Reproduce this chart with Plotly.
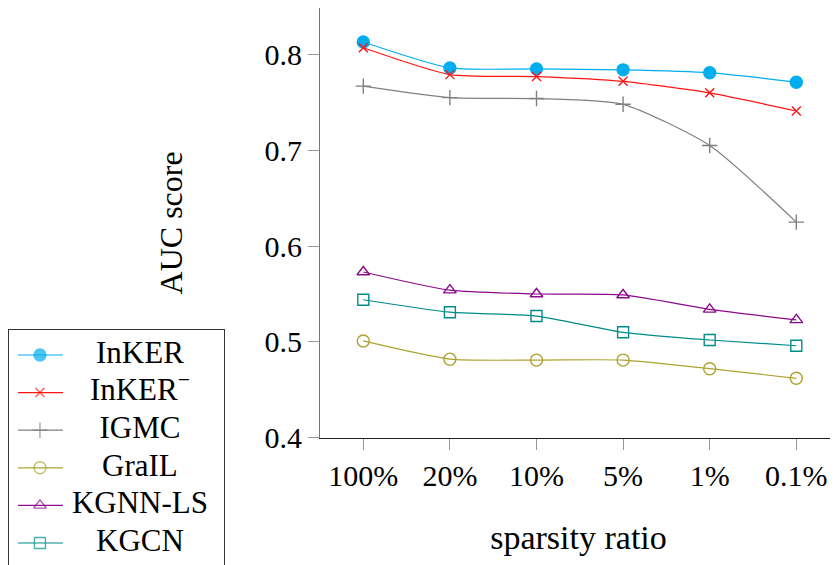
import plotly.graph_objects as go

categories = ["100%", "20%", "10%", "5%", "1%", "0.1%"]
inker = [0.813, 0.786, 0.785, 0.784, 0.781, 0.771]
inker_minus = [0.807, 0.779, 0.777, 0.772, 0.760, 0.741]
igmc = [0.767, 0.755, 0.754, 0.748, 0.705, 0.625]
grail = [0.501, 0.482, 0.481, 0.481, 0.472, 0.462]
kgnn_ls = [0.573, 0.554, 0.550, 0.549, 0.534, 0.523]
kgcn = [0.544, 0.531, 0.527, 0.510, 0.502, 0.496]

series = [
    ("InKER", inker, "#00AEEF", "circle", 12),
    ("InKER<sup>\u2212</sup>", inker_minus, "#FF1414", "x-thin-open", 9),
    ("IGMC", igmc, "#808080", "cross-thin-open", 11),
    ("GraIL", grail, "#ADA230", "circle-open", 12),
    ("KGNN-LS", kgnn_ls, "#8B0A8B", "triangle-up-open", 11),
    ("KGCN", kgcn, "#008B8B", "square-open", 11),
]

SW, SH = 838, 565     # browser window
OFF = 8               # page body margin
W, H = SW - OFF, SH - OFF
FONT = "Liberation Serif, DejaVu Serif, serif"
xs = list(range(len(categories)))


def px_x(p):
    return min(max((p - OFF) / W, 0), 1)


def px_y(p):
    return min(max((H - (p - OFF)) / H, 0), 1)


fig = go.Figure()
for name, vals, color, sym, size in series:
    fig.add_trace(go.Scatter(
        x=xs, y=vals, mode="lines+markers", name=name,
        line=dict(color=color, width=1.2, shape="spline", smoothing=0.6),
        marker=dict(symbol=sym, size=size, color=color,
                    line=dict(color=color, width=1.4)),
        showlegend=False, xaxis="x", yaxis="y"))

# custom legend (centered text, like pgfplots)
ROW = 37.6
for i, (name, vals, color, sym, size) in enumerate(series):
    fig.add_trace(go.Scatter(
        x=[0.042, 0.144, 0.251], y=[i, i, i], mode="lines+markers",
        line=dict(color=color, width=1.2),
        marker=dict(symbol=sym, size=[0, size, 0], color=color,
                    line=dict(color=color, width=[0, 1.4, 0])),
        showlegend=False, hoverinfo="skip", xaxis="x2", yaxis="y2"))
fig.add_trace(go.Scatter(
    x=[0.609] * len(series), y=list(range(len(series))), mode="text",
    text=[s[0] for s in series], textposition="middle center",
    textfont=dict(family=FONT, size=31, color="black"),
    showlegend=False, hoverinfo="skip", xaxis="x2", yaxis="y2"))

# y range: 0.4 at screen 437.7, 0.1 per 95.8 px; top of domain at screen OFF
y_top = 0.4 + (437.7 - OFF) / 958.0

fig.update_layout(
    width=W, height=H,
    margin=dict(l=0, r=0, t=0, b=0),
    paper_bgcolor="white", plot_bgcolor="white",
    font=dict(family=FONT, size=30, color="black"),
    xaxis=dict(
        domain=[px_x(320), px_x(837)], range=[-0.5, 5.47],
        tickvals=xs, ticktext=categories,
        showgrid=False, zeroline=False,
        showline=True, linecolor="#222", linewidth=1.2, mirror="ticks",
        ticks="outside", ticklen=11, tickcolor="#999", tickwidth=1,
        automargin=False, anchor="y",
        title=dict(text="sparsity ratio", standoff=34, font=dict(family=FONT, size=34)),
        tickfont=dict(family=FONT, size=30),
    ),
    yaxis=dict(
        domain=[px_y(437.7), 1], range=[0.4, y_top],
        tickvals=[0.4, 0.5, 0.6, 0.7, 0.8], ticktext=["0.4", "0.5", "0.6", "0.7", "0.8"],
        showgrid=False, zeroline=False,
        showline=True, linecolor="#777", linewidth=1.2, mirror="ticks",
        ticks="outside", ticklen=11, tickcolor="#999", tickwidth=1,
        automargin=False, anchor="x",
        title=dict(text="AUC score", standoff=72, font=dict(family=FONT, size=32)),
        tickfont=dict(family=FONT, size=30),
    ),
    xaxis2=dict(domain=[px_x(9), px_x(224)], range=[0, 1], showgrid=False,
                zeroline=False, showticklabels=False, ticks="", anchor="y2",
                showline=True, linecolor="#333", linewidth=1.2, mirror=True,
                fixedrange=True),
    yaxis2=dict(domain=[0, px_y(330)],
                range=[(SH - 355) / ROW, -(355 - 330) / ROW], showgrid=False,
                zeroline=False, showticklabels=False, ticks="", anchor="x2",
                showline=True, linecolor="#333", linewidth=1.2, mirror=True,
                fixedrange=True),
)

fig.write_html("out.html")
